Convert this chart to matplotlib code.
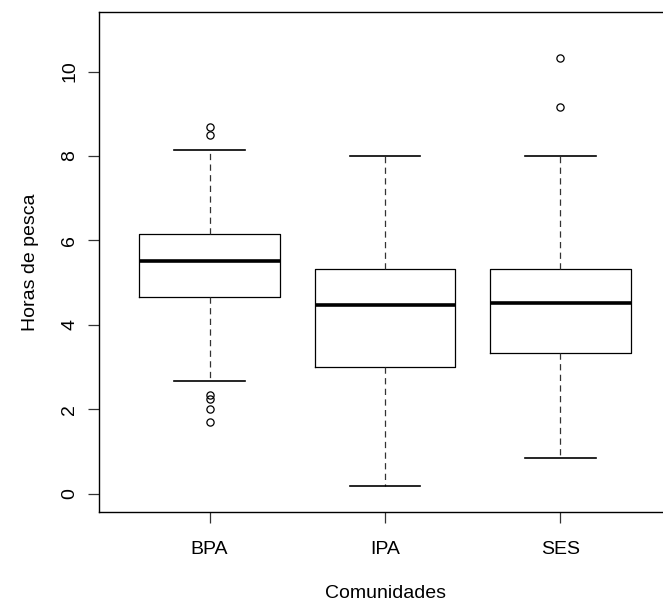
import matplotlib
matplotlib.use('Agg')
import matplotlib.pyplot as plt

# valores (horas de pesca por comunidade)
comunidades = ['BPA', 'IPA', 'SES']
whisker_low = [2.67, 0.19, 0.85]
q1 = [4.67, 3.00, 3.33]
medianas = [5.51, 4.46, 4.51]
q3 = [6.15, 5.33, 5.33]
whisker_high = [8.15, 8.00, 8.00]
outliers = [[8.68, 8.50, 2.35, 2.25, 2.02, 1.71], [], [9.17, 10.33]]
y_ticks = [0, 2, 4, 6, 8, 10]

plt.rcParams['font.family'] = ['Liberation Sans', 'DejaVu Sans']

fig = plt.figure(figsize=(6.63, 6.07), dpi=100)
W, H = 663.0, 607.0
# o painel continua alem da borda direita (imagem cortada)
ax = fig.add_axes([99 / W, 1 - 512 / H, (671 - 99) / W, (512 - 12) / H])

stats = []
for i in range(len(comunidades)):
    stats.append(dict(label=comunidades[i], whislo=whisker_low[i], q1=q1[i],
                      med=medianas[i], q3=q3[i], whishi=whisker_high[i],
                      fliers=outliers[i]))

ax.bxp(stats, positions=[1, 2, 3], widths=0.8, capwidths=0.4,
       boxprops=dict(color='black', linewidth=0.9),
       medianprops=dict(color='black', linewidth=2.6, solid_capstyle='butt'),
       whiskerprops=dict(color='#333333', linewidth=0.9, linestyle=(0, (5, 3.5))),
       capprops=dict(color='black', linewidth=1.2),
       flierprops=dict(marker='o', markerfacecolor='none', markeredgecolor='black',
                       markersize=5.2, markeredgewidth=0.9, linestyle='none'))

ax.set_xlim(0.37, 3.63)
ax.set_ylim(-0.43, 11.41)
ax.set_yticks(y_ticks)
ax.set_yticklabels([str(v) for v in y_ticks], rotation=90, va='center')
ax.set_xticks([1, 2, 3])
ax.set_xticklabels(comunidades)

ax.tick_params(axis='both', length=8, width=0.9, color='#333333', labelsize=14)
ax.tick_params(axis='y', pad=7)
ax.tick_params(axis='x', pad=13)
for s in ax.spines.values():
    s.set_linewidth(1.0)

ax.set_xlabel('Comunidades', fontsize=14, labelpad=19)
ax.set_ylabel('Horas de pesca', fontsize=14, labelpad=16)

fig.savefig('out.png', dpi=100)
